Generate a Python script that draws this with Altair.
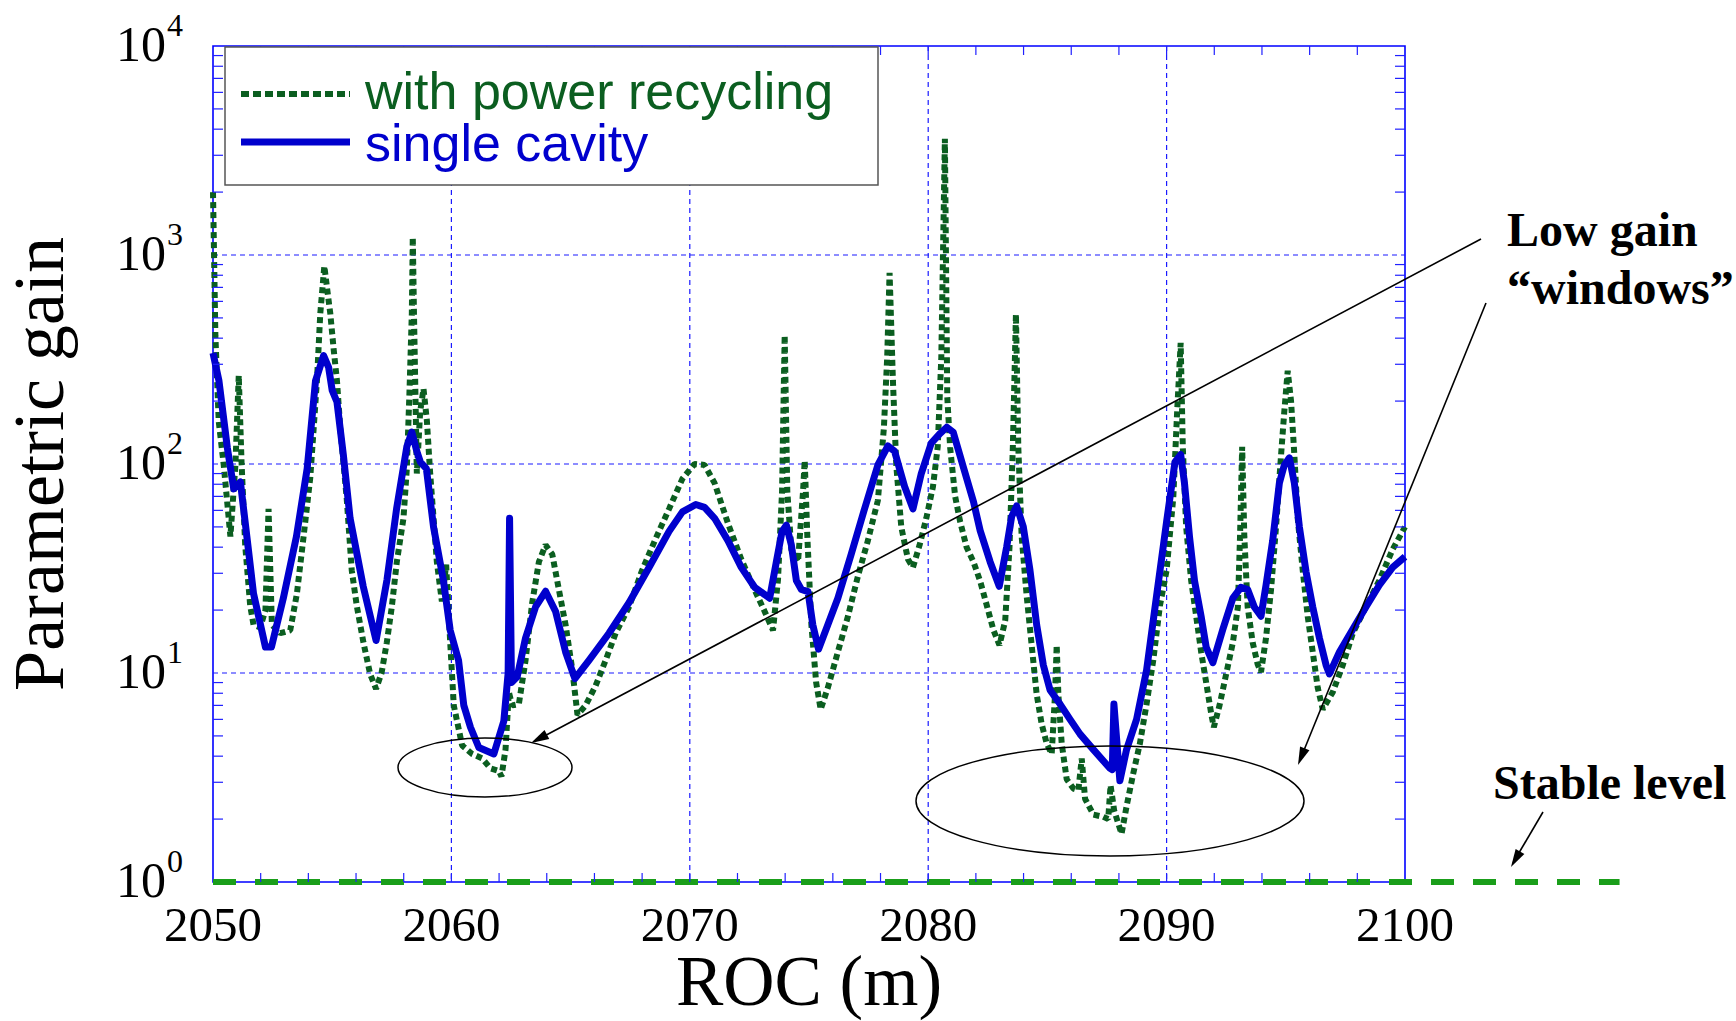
import altair as alt
import pandas as pd

# ---------------- data ----------------
roc_single = [2050.0, 2050.25, 2050.6, 2050.87, 2051.15, 2051.42, 2051.7, 2052.2, 2052.45, 2052.95,
              2053.5, 2053.95, 2054.3, 2054.64, 2054.85, 2055.0, 2055.2, 2055.47, 2055.75, 2056.3,
              2056.84, 2057.3, 2057.7, 2058.13, 2058.34, 2058.55, 2058.7, 2058.95, 2059.25, 2059.66,
              2059.95, 2060.3, 2060.52, 2060.8, 2061.15, 2061.78, 2062.2, 2062.38, 2062.44, 2062.52,
              2062.76, 2063.11, 2063.53, 2063.95, 2064.37, 2064.79, 2065.18, 2065.77, 2066.61, 2067.45,
              2068.29, 2069.13, 2069.69, 2070.25, 2070.62, 2071.04, 2071.6, 2072.16, 2072.72, 2073.35,
              2073.63, 2073.87, 2074.05, 2074.26, 2074.47, 2074.68, 2074.96, 2075.16, 2075.4, 2075.79,
              2076.21, 2076.77, 2077.33, 2077.89, 2078.31, 2078.59, 2079.01, 2079.36, 2079.71, 2080.13,
              2080.5, 2080.78, 2081.05, 2081.47, 2081.9, 2082.18, 2082.6, 2082.98, 2083.29, 2083.5,
              2083.71, 2083.99, 2084.27, 2084.55, 2084.83, 2085.11, 2085.53, 2085.95, 2086.37, 2086.93,
              2087.62, 2087.72, 2087.79, 2088.04, 2088.32, 2088.74, 2089.16, 2089.58, 2090.0, 2090.35,
              2090.59, 2090.75, 2090.96, 2091.17, 2091.45, 2091.66, 2091.94, 2092.36, 2092.78, 2093.12,
              2093.4, 2093.68, 2093.96, 2094.17, 2094.45, 2094.73, 2094.94, 2095.15, 2095.36, 2095.57,
              2095.85, 2096.13, 2096.41, 2096.69, 2096.83, 2097.25, 2097.81, 2098.36, 2098.92, 2099.48,
              2100.0]
gain_single = [340, 250, 120, 76, 82, 45, 24, 13.3, 13.3, 22.8,
               45, 95, 250, 330, 290, 225, 198, 110, 55, 26,
               14.3, 28, 61, 121, 142, 115, 102, 95, 50, 28,
               16, 11.5, 7.0, 5.5, 4.4, 4.1, 5.9, 10, 55, 9.0,
               9.6, 14.7, 20.7, 24.6, 19.7, 12.6, 9.4, 11.5, 15.5, 21.7,
               32, 47.6, 59, 64, 62, 55, 43, 32, 25.7, 22.8,
               34, 47.6, 51, 41, 27.7, 25.1, 24.5, 17, 13, 17,
               22.8, 37, 61, 99, 122, 115, 78, 61, 90, 126,
               140, 150, 142, 97, 66, 48, 34, 26, 40, 56,
               63, 50, 31, 17, 10.9, 8.3, 7.1, 6.0, 5.1, 4.3,
               3.5, 3.45, 7.1, 3.05, 4.3, 6.0, 10.3, 23.4, 53, 102,
               111, 81, 45, 27.7, 18.6, 13.3, 11.2, 16.2, 22.8, 25.7,
               25.1, 20.7, 18.7, 26.3, 43, 81, 99, 107, 81, 50,
               30.5, 20.7, 14.7, 10.9, 9.9, 12.6, 16.2, 20.7, 26.3, 32,
               36]

roc_recycling = [2050.0, 2050.1, 2050.24, 2050.45, 2050.73, 2050.94, 2051.08, 2051.2, 2051.35, 2051.56,
                 2051.7, 2051.98, 2052.2, 2052.33, 2052.47, 2052.82, 2053.24, 2053.52, 2053.8, 2054.08,
                 2054.36, 2054.5, 2054.67, 2054.78, 2054.92, 2055.06, 2055.2, 2055.34, 2055.61, 2055.82,
                 2056.03, 2056.31, 2056.59, 2056.84, 2057.07, 2057.29, 2057.5, 2057.71, 2057.99, 2058.13,
                 2058.24, 2058.34, 2058.38, 2058.43, 2058.49, 2058.55, 2058.69, 2058.83, 2058.97, 2059.11,
                 2059.39, 2059.6, 2059.78, 2059.95, 2060.1, 2060.45, 2060.87, 2061.29, 2061.64, 2061.99,
                 2062.1, 2062.27, 2062.41, 2062.55, 2062.83, 2063.11, 2063.39, 2063.67, 2063.95, 2064.23,
                 2064.51, 2064.79, 2065.07, 2065.29, 2065.63, 2066.05, 2066.47, 2066.89, 2067.45, 2068.0,
                 2068.57, 2069.13, 2069.69, 2070.2, 2070.62, 2071.04, 2071.6, 2072.16, 2072.72, 2073.14,
                 2073.49, 2073.7, 2073.87, 2073.98, 2074.09, 2074.26, 2074.54, 2074.75, 2074.82, 2074.93,
                 2075.1, 2075.3, 2075.49, 2075.79, 2076.21, 2076.63, 2077.05, 2077.47, 2077.89, 2078.14,
                 2078.28, 2078.38, 2078.52, 2078.66, 2078.87, 2079.15, 2079.36, 2079.64, 2079.92, 2080.2,
                 2080.4, 2080.55, 2080.7, 2080.8, 2080.92, 2081.13, 2081.34, 2081.61, 2081.9, 2082.18,
                 2082.46, 2082.74, 2082.99, 2083.23, 2083.41, 2083.55, 2083.68, 2083.78, 2083.92, 2084.13,
                 2084.34, 2084.55, 2084.76, 2084.97, 2085.18, 2085.32, 2085.39, 2085.46, 2085.6, 2085.81,
                 2086.09, 2086.3, 2086.44, 2086.58, 2086.93, 2087.34, 2087.55, 2087.65, 2087.8, 2088.11,
                 2088.32, 2088.6, 2088.88, 2089.16, 2089.44, 2089.72, 2090.0, 2090.28, 2090.45, 2090.59,
                 2090.68, 2090.82, 2091.03, 2091.24, 2091.45, 2091.66, 2091.87, 2091.98, 2092.22, 2092.5,
                 2092.78, 2092.99, 2093.08, 2093.17, 2093.26, 2093.4, 2093.61, 2093.82, 2093.96, 2094.17,
                 2094.38, 2094.59, 2094.8, 2094.94, 2095.08, 2095.22, 2095.36, 2095.5, 2095.71, 2095.92,
                 2096.13, 2096.34, 2096.55, 2096.97, 2097.39, 2097.81, 2098.36, 2098.92, 2099.48, 2100.0]
gain_recycling = [2000, 410, 160, 99, 45, 99, 265, 100, 41, 21,
                  17, 16.5, 20, 61, 17, 15.5, 16, 24, 45, 86,
                  250, 525, 885, 700, 525, 355, 250, 148, 68, 31,
                  21, 14, 9.9, 8.4, 10, 14, 20.7, 34, 55, 95,
                  219, 525, 1216, 525, 219, 90, 178, 229, 162, 90,
                  34, 22, 33, 14, 7.0, 4.5, 4.1, 3.9, 3.5, 3.4,
                  3.2, 4.3, 8.1, 7.0, 7.1, 11.5, 21.7, 34, 41, 37,
                  25, 17, 10.4, 6.3, 7.0, 8.7, 11.5, 15.5, 20.7, 31,
                  44, 61, 85, 100, 99, 81, 52, 35, 25, 19.7,
                  16, 28, 74, 413, 74, 39, 34, 74, 104, 45,
                  17, 9.0, 6.7, 8.5, 12.6, 18.6, 29, 43, 67, 148,
                  324, 822, 251, 99, 50, 35, 32, 41, 55, 78,
                  121, 324, 3600, 209, 120, 70, 53, 40, 34, 27.5,
                  21, 16, 13.6, 17.8, 40, 120, 520, 120, 45, 23.4,
                  13.6, 7.9, 5.7, 4.6, 4.1, 7.9, 13.6, 7.9, 4.6, 3.1,
                  2.8, 2.75, 3.9, 2.5, 2.1, 2.05, 2.0, 2.9, 2.2, 1.7,
                  2.3, 3.3, 4.6, 7.1, 11.5, 21, 31, 69, 186, 380,
                  120, 50, 27.7, 18.7, 12.6, 9.0, 6.4, 5.5, 7.0, 9.9,
                  14, 20.7, 45, 121, 45, 20.7, 14, 11, 10.1, 14.7,
                  25, 50, 110, 180, 279, 200, 110, 55, 31, 18.6,
                  12.6, 8.5, 6.7, 8.1, 10.9, 15.5, 20.7, 27.7, 39, 50]

stable_roc = [2050, 2109]
stable_gain = [1, 1]

x_tick_values = [2050, 2060, 2070, 2080, 2090, 2100]
x_tick_labels = ["2050", "2060", "2070", "2080", "2090", "2100"]
x_grid_values = [2060, 2070, 2080, 2090]
y_tick_values = [1, 10, 100, 1000, 10000]
y_grid_values = [10, 100, 1000]
y_tick_bases = ["10", "10", "10", "10", "10"]
y_tick_exponents = ["0", "1", "2", "3", "4"]
x_minor_ticks = [2052, 2054, 2056, 2058, 2060, 2062, 2064, 2066, 2068, 2070, 2072, 2074,
                 2076, 2078, 2080, 2082, 2084, 2086, 2088, 2090, 2092, 2094, 2096, 2098]
y_minor_ticks = [2, 3, 4, 5, 6, 7, 8, 9,
                 20, 30, 40, 50, 60, 70, 80, 90,
                 200, 300, 400, 500, 600, 700, 800, 900,
                 2000, 3000, 4000, 5000, 6000, 7000, 8000, 9000]

# ---------------- layout / style ----------------
W, H = 1192, 836
SERIF = "Liberation Serif"
SANS = "Liberation Sans"
GREEN = "#0b5e20"
BLUE = "#0000cd"
STABLE = "#1a9e1a"
GRID = "#1a1aff"
TICK = "#2020ff"

X_SCALE = alt.Scale(domain=[2050, 2100], nice=False, zero=False)
Y_SCALE = alt.Scale(type="log", domain=[1, 10000], nice=False)


def one_row():
    return pd.DataFrame({"k": [0]})


def ellipse_path(ratio):
    k = 0.5523
    r = ratio
    return (f"M -1 0 C -1 {-k*r:.4f} {-k} {-r:.4f} 0 {-r:.4f} "
            f"C {k} {-r:.4f} 1 {-k*r:.4f} 1 0 "
            f"C 1 {k*r:.4f} {k} {r:.4f} 0 {r:.4f} "
            f"C {-k} {r:.4f} -1 {k*r:.4f} -1 0 Z")


ARROW = "M 0 0 L 0.28 1 L -0.28 1 Z"

def xq(field="roc"):
    return alt.X(f"{field}:Q", scale=X_SCALE, axis=None)

def yq(field="gain"):
    return alt.Y(f"{field}:Q", scale=Y_SCALE, axis=None)

df_pr = pd.DataFrame({"roc": roc_recycling, "gain": gain_recycling})
df_sc = pd.DataFrame({"roc": roc_single, "gain": gain_single})
df_stable = pd.DataFrame({"roc": stable_roc, "gain": stable_gain})

# grid lines
grid_v = alt.Chart(pd.DataFrame({"roc": x_grid_values})).mark_rule(
    color=GRID, strokeWidth=1.2, strokeDash=[5, 4]).encode(x=xq(), y=alt.value(0), y2=alt.value(H))
grid_h = alt.Chart(pd.DataFrame({"gain": y_grid_values})).mark_rule(
    color=GRID, strokeWidth=1.2, strokeDash=[5, 4]).encode(y=yq(), x=alt.value(0), x2=alt.value(W))

green = alt.Chart(df_pr).mark_line(color=GREEN, strokeWidth=6, strokeDash=[6, 4],
                                   strokeCap="butt", strokeJoin="bevel").encode(x=xq(), y=yq())

blue = alt.Chart(df_sc).mark_line(color=BLUE, strokeWidth=7, strokeJoin="round").encode(x=xq(), y=yq())

stable = alt.Chart(df_stable).mark_line(color=STABLE, strokeWidth=6, strokeDash=[23, 19]).encode(
    x=xq(), y=yq())

# minor ticks (inward)
df_xm = pd.DataFrame({"roc": x_minor_ticks})
df_ym = pd.DataFrame({"gain": y_minor_ticks})
tick_bottom = alt.Chart(df_xm).mark_rule(color=TICK, strokeWidth=1.2).encode(
    x=xq(), y=alt.value(H), y2=alt.value(H - 9))
tick_top = alt.Chart(df_xm).mark_rule(color=TICK, strokeWidth=1.2).encode(
    x=xq(), y=alt.value(0), y2=alt.value(9))
tick_left = alt.Chart(df_ym).mark_rule(color=TICK, strokeWidth=1.2).encode(
    y=yq(), x=alt.value(0), x2=alt.value(10))
tick_right = alt.Chart(df_ym).mark_rule(color=TICK, strokeWidth=1.2).encode(
    y=yq(), x=alt.value(W), x2=alt.value(W - 10))

# x tick labels
df_xlab = pd.DataFrame({"roc": x_tick_values, "label": x_tick_labels})
xlab = alt.Chart(df_xlab).mark_text(font=SERIF, fontSize=49, align="center", baseline="top",
                                    color="black").encode(
    x=xq(), y=alt.value(H + 20), text="label:N")

# y tick labels 10^n
df_ylab = pd.DataFrame({"gain": y_tick_values, "base": y_tick_bases, "exp": y_tick_exponents})
ylab_base = alt.Chart(df_ylab).mark_text(font=SERIF, fontSize=50, align="right",
                                         baseline="middle", color="black").encode(
    y=yq(), x=alt.value(-47), text="base:N")
ylab_exp = alt.Chart(df_ylab).mark_text(font=SERIF, fontSize=32, align="left",
                                        baseline="middle", dy=-20, color="black").encode(
    y=yq(), x=alt.value(-46), text="exp:N")

# axis titles
x_title = alt.Chart(one_row()).mark_text(text="ROC (m)", font=SERIF, fontSize=71, align="center",
                                         baseline="alphabetic", color="black").encode(
    x=alt.value(W / 2), y=alt.value(959))
y_title = alt.Chart(one_row()).mark_text(text="Parametric gain", font=SERIF, fontSize=72,
                                         align="center", baseline="alphabetic", angle=270,
                                         color="black").encode(
    x=alt.value(-150), y=alt.value(H / 2))

# legend
leg_box = alt.Chart(one_row()).mark_rect(fill="white", stroke="#555555", strokeWidth=1.5).encode(
    x=alt.value(12), x2=alt.value(665), y=alt.value(1), y2=alt.value(139))
leg_green = alt.Chart(one_row()).mark_rule(color=GREEN, strokeWidth=6, strokeDash=[8, 4]).encode(
    x=alt.value(28), x2=alt.value(137), y=alt.value(48))
leg_blue = alt.Chart(one_row()).mark_rule(color=BLUE, strokeWidth=7).encode(
    x=alt.value(28), x2=alt.value(137), y=alt.value(96))
leg_t1 = alt.Chart(one_row()).mark_text(text="with power recycling", font=SANS, fontSize=52,
                                        align="left", baseline="alphabetic", color=GREEN).encode(
    x=alt.value(152), y=alt.value(63))
leg_t2 = alt.Chart(one_row()).mark_text(text="single cavity", font=SANS, fontSize=52,
                                        align="left", baseline="alphabetic", color=BLUE).encode(
    x=alt.value(152), y=alt.value(115))

# annotations
ell1 = alt.Chart(one_row()).mark_point(shape=ellipse_path(0.339), size=174 ** 2, filled=False,
                                       stroke="black", strokeWidth=1.5, opacity=1).encode(
    x=alt.value(272), y=alt.value(721.5))
ell2 = alt.Chart(one_row()).mark_point(shape=ellipse_path(0.2835), size=388 ** 2, filled=False,
                                       stroke="black", strokeWidth=1.5, opacity=1).encode(
    x=alt.value(897), y=alt.value(755))

line1 = alt.Chart(one_row()).mark_rule(color="black", strokeWidth=1.6).encode(
    x=alt.value(1268), y=alt.value(193), x2=alt.value(322), y2=alt.value(695))
line2 = alt.Chart(one_row()).mark_rule(color="black", strokeWidth=1.6).encode(
    x=alt.value(1273), y=alt.value(257), x2=alt.value(1087), y2=alt.value(714))
line3 = alt.Chart(one_row()).mark_rule(color="black", strokeWidth=1.6).encode(
    x=alt.value(1330), y=alt.value(766), x2=alt.value(1300), y2=alt.value(817))

head1 = alt.Chart(one_row()).mark_point(shape=ARROW, size=1296, filled=True, color="black",
                                        opacity=1, angle=242).encode(
    x=alt.value(318), y=alt.value(697))
head2 = alt.Chart(one_row()).mark_point(shape=ARROW, size=1296, filled=True, color="black",
                                        opacity=1, angle=202).encode(
    x=alt.value(1085), y=alt.value(719))
head3 = alt.Chart(one_row()).mark_point(shape=ARROW, size=1296, filled=True, color="black",
                                        opacity=1, angle=210).encode(
    x=alt.value(1298), y=alt.value(821))

txt_low = alt.Chart(one_row()).mark_text(text="Low gain", font=SERIF, fontSize=48, fontWeight="bold",
                                         align="left", baseline="alphabetic", color="black").encode(
    x=alt.value(1294), y=alt.value(200))
txt_win = alt.Chart(one_row()).mark_text(text="\u201cwindows\u201d", font=SERIF, fontSize=48,
                                         fontWeight="bold", align="left", baseline="alphabetic",
                                         color="black").encode(
    x=alt.value(1294), y=alt.value(258))
txt_stable = alt.Chart(one_row()).mark_text(text="Stable level", font=SERIF, fontSize=48,
                                            fontWeight="bold", align="left", baseline="alphabetic",
                                            color="black").encode(
    x=alt.value(1280), y=alt.value(753))

chart = alt.layer(
    grid_v, grid_h,
    green, blue, stable,
    tick_bottom, tick_top, tick_left, tick_right,
    ell1, ell2, line1, line2, line3, head1, head2, head3,
    leg_box, leg_green, leg_blue, leg_t1, leg_t2,
    xlab, ylab_base, ylab_exp, x_title, y_title,
    txt_low, txt_win, txt_stable,
).properties(
    width=W, height=H,
    padding={"left": 213, "top": 46, "right": 331, "bottom": 139},
    autosize=alt.AutoSizeParams(type="none"),
    background="white",
).configure_view(stroke="#0000ff", strokeWidth=1.6)

chart.save("out.html", embed_options={"renderer": "svg", "actions": False})
